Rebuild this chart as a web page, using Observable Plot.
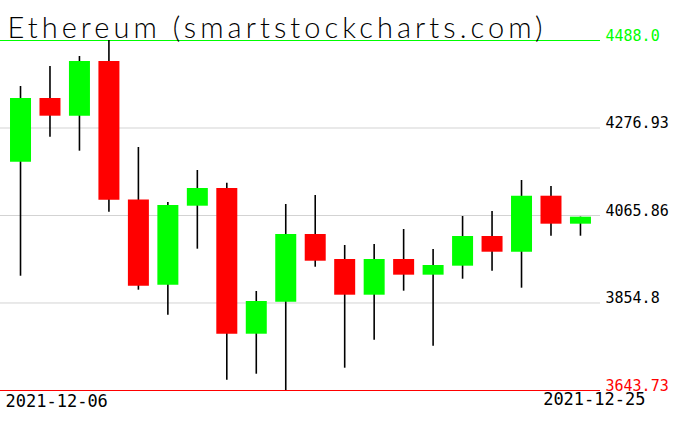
<!DOCTYPE html>
<html><head><meta charset="utf-8">
<script src="https://cdn.jsdelivr.net/npm/d3@7"></script>
<script src="https://cdn.jsdelivr.net/npm/@observablehq/plot@0.6"></script>
<style>html,body{margin:0;padding:0;background:#fff}</style>
</head><body><div id="chart"></div>
<script>
const title = "Ethereum (smartstockcharts.com)";
const dates = ["2021-12-06","2021-12-07","2021-12-08","2021-12-09","2021-12-10","2021-12-11","2021-12-12","2021-12-13","2021-12-14","2021-12-15",
               "2021-12-16","2021-12-17","2021-12-18","2021-12-19","2021-12-20","2021-12-21","2021-12-22","2021-12-23","2021-12-24","2021-12-25"];
const open  = [4194.4, 4348.1, 4305.4, 4437.3, 4103.0, 3897.7, 4088.3, 4131.0, 3779.5, 3856.7,
               4020.0, 3959.7, 3873.6, 3959.7, 3921.9, 3943.6, 4015.2, 3977.3, 4112.4, 4044.9];
const close = [4348.1, 4305.4, 4437.3, 4102.8, 3895.3, 4090.0, 4131.0, 3779.5, 3858.4, 4020.0,
               3955.6, 3873.6, 3959.7, 3921.9, 3945.3, 4015.2, 3977.3, 4112.4, 4044.9, 4061.8];
const high  = [4377.0, 4425.3, 4449.4, 4488.0, 4229.9, 4097.2, 4174.4, 4143.8, 3882.5, 4092.4,
               4114.1, 3993.5, 3995.9, 4032.1, 3983.8, 4063.5, 4075.5, 4150.3, 4135.8, 4062.0];
const low   = [3919.4, 4254.7, 4221.0, 4073.8, 3885.7, 3825.4, 3984.6, 3668.6, 3683.0, 3643.73,
               3941.1, 3697.5, 3765.1, 3883.3, 3750.6, 3912.2, 3931.5, 3890.5, 4015.9, 4015.9];
const yTicks = [4488.0, 4276.93, 4065.86, 3854.8, 3643.73];
const yTickLabels = ["4488.0", "4276.93", "4065.86", "3854.8", "3643.73"];

const UP = "#00ff00", DOWN = "#ff0000";
const candles = dates.map((d, i) => ({i, date: d, open: open[i], close: close[i], high: high[i], low: low[i]}));

const chart = Plot.plot({
  width: 676, height: 431,
  marginTop: 40, marginBottom: 41, marginLeft: 0, marginRight: 76,
  style: {fontFamily: "'DejaVu Sans Mono', monospace", background: "#fff", color: "#000"},
  x: {type: "linear", domain: [-0.679, 19.68], axis: null},
  y: {domain: [3643.73, 4488], axis: null},
  color: {type: "identity"},
  marks: [
    Plot.ruleY(yTicks.slice(1, -1), {stroke: "#d3d3d3", strokeWidth: 1}),
    Plot.ruleY([yTicks[0]], {stroke: UP, strokeWidth: 1}),
    Plot.ruleY([yTicks[yTicks.length - 1]], {stroke: DOWN, strokeWidth: 1}),
    Plot.text(yTicks, {y: d => d, text: (d, i) => yTickLabels[i], frameAnchor: "right",
      textAnchor: "start", lineAnchor: "bottom", dx: 5, dy: 0, fontSize: 15,
      fill: (d, i) => i === 0 ? UP : i === yTicks.length - 1 ? DOWN : "#000"}),
    Plot.ruleX(candles, {x: "i", y1: "low", y2: "high", stroke: "#000", strokeWidth: 1.6}),
    Plot.ruleX(candles, {x: "i", y1: "open", y2: "close", strokeWidth: 21,
      stroke: d => d.close >= d.open ? UP : DOWN}),
    Plot.text([dates[0]], {text: d => d, frameAnchor: "bottom-left", textAnchor: "start",
      lineAnchor: "top", dx: 5, dy: 4, fontSize: 17, fill: "#000"}),
    Plot.text([dates[dates.length - 1]], {text: d => d, frameAnchor: "bottom-right", textAnchor: "end",
      lineAnchor: "top", dx: 45, dy: 2, fontSize: 17, fill: "#000"}),
    Plot.text([title], {text: d => d, frameAnchor: "top-left", textAnchor: "start",
      lineAnchor: "bottom", dx: 7, dy: -3, fontSize: 29, fill: "#000",
      fontFamily: "Lato, 'DejaVu Sans', sans-serif", fontWeight: 300})
  ]
});
d3.select(chart).selectAll("text").filter(function() { return this.textContent === title; })
  .attr("textLength", 535).attr("lengthAdjust", "spacing");
document.getElementById("chart").appendChild(chart);
</script>
</body></html>
